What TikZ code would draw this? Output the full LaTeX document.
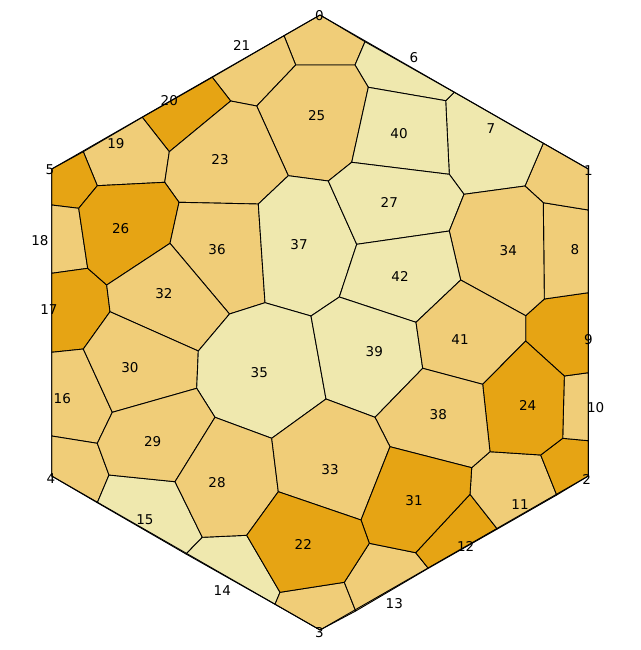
\documentclass[tikz,border=0pt]{standalone}
\usepackage{fontspec}
\setmainfont{DejaVu Sans}
\usepackage{xcolor}
\usepackage{tikz}

\definecolor{pale}{RGB}{239,232,174}
\definecolor{mid}{RGB}{240,205,120}
\definecolor{deep}{RGB}{230,164,20}

\begin{document}
\begin{tikzpicture}[
  x=1pt, y=-1pt,
  font=\fontsize{13.5}{16}\selectfont,
  cell/.style={draw=black, line width=0.9pt, line join=round},
  palecell/.style={cell, fill=pale},
  midcell/.style={cell, fill=mid},
  deepcell/.style={cell, fill=deep},
  lbl/.style={inner sep=0pt}
]
\useasboundingbox (0,0) rectangle (640,650);

% cells touching the hexagon
\filldraw[midcell]  (284,35.7) -- (320,15) -- (365,41.7) -- (355,65) -- (295.7,65) -- cycle;
\filldraw[midcell]  (212.3,77.3) -- (284,35.7) -- (295.7,65) -- (256.7,106) -- (230.7,101) -- cycle;
\filldraw[deepcell] (142.3,117.3) -- (212.3,77.3) -- (230.7,101) -- (169.3,151.7) -- cycle;
\filldraw[midcell]  (83.3,151.7) -- (142.3,117.3) -- (169.3,151.7) -- (164.7,182.3) -- (97.3,185.7) -- cycle;
\filldraw[deepcell] (51.7,169) -- (83.3,151.7) -- (97.3,185.7) -- (78.7,208.3) -- (51.7,205) -- cycle;
\filldraw[midcell]  (51.7,205) -- (78.7,208.3) -- (87.7,268.3) -- (51.7,273.3) -- cycle;
\filldraw[deepcell] (51.7,273.3) -- (87.7,268.3) -- (106.7,285) -- (110,311.7) -- (83.3,349) -- (51.7,352.3) -- cycle;
\filldraw[midcell]  (51.7,352.3) -- (83.3,349) -- (112.3,412.3) -- (97.3,443.3) -- (51.7,436) -- cycle;
\filldraw[midcell]  (51.7,436) -- (97.3,443.3) -- (109,475) -- (97.3,502.7) -- (51.7,476) -- cycle;
\filldraw[palecell] (97.3,502.7) -- (109,475) -- (175,481.7) -- (202.3,537.3) -- (186,554) -- cycle;
\filldraw[palecell] (186,554) -- (202.3,537.3) -- (246.7,535.3) -- (280,592.3) -- (275,604.3) -- cycle;
\filldraw[midcell]  (275,604.3) -- (280,592.3) -- (344.3,582.3) -- (355.7,611) -- (320,630) -- cycle;
\filldraw[midcell]  (355.7,611) -- (344.3,582.3) -- (369.3,543.3) -- (415.7,552.7) -- (428.3,568.3) -- cycle;
\filldraw[deepcell] (428.3,568.3) -- (415.7,552.7) -- (470,494.3) -- (497.3,529) -- cycle;
\filldraw[midcell]  (497.3,529) -- (470,494.3) -- (471.7,467.7) -- (490,451.7) -- (540.7,455) -- (556.7,495) -- cycle;
\filldraw[deepcell] (556.7,495) -- (540.7,455) -- (562.7,438.3) -- (588.3,440.7) -- (588.3,476) -- cycle;
\filldraw[midcell]  (588.3,440.7) -- (562.7,438.3) -- (564.3,376) -- (588.3,372.7) -- cycle;
\filldraw[deepcell] (544.3,299) -- (588.3,292.7) -- (588.3,372.7) -- (564.3,376) -- (525.7,341) -- (525.7,315.7) -- cycle;
\filldraw[midcell]  (543.3,202.7) -- (588.3,210) -- (588.3,292.7) -- (544.3,299) -- cycle;
\filldraw[midcell]  (543.3,143.3) -- (588.3,169) -- (588.3,210) -- (543.3,202.7) -- (525,186) -- cycle;
\filldraw[palecell] (454.3,92.3) -- (543.3,143.3) -- (525,186) -- (464,194.3) -- (449.3,174.3) -- (445.7,100.7) -- cycle;
\filldraw[palecell] (365,41.7) -- (454.3,92.3) -- (445.7,100.7) -- (368.3,87.3) -- (355,65) -- cycle;

% inner cells
\filldraw[midcell]  (295.7,65) -- (355,65) -- (368.3,87.3) -- (351.7,162.3) -- (328.3,181) -- (288.3,175.7) -- (256.7,106) -- cycle;
\filldraw[palecell] (368.3,87.3) -- (445.7,100.7) -- (449.3,174.3) -- (351.7,162.3) -- cycle;
\filldraw[midcell]  (169.3,151.7) -- (230.7,101) -- (256.7,106) -- (288.3,175.7) -- (258.3,204) -- (179,202.3) -- (164.7,182.3) -- cycle;
\filldraw[deepcell] (97.3,185.7) -- (164.7,182.3) -- (179,202.3) -- (170,243.3) -- (106.7,285) -- (87.7,268.3) -- (78.7,208.3) -- cycle;
\filldraw[midcell]  (179,202.3) -- (258.3,204) -- (265,302.7) -- (229.5,314) -- (170,243.3) -- cycle;
\filldraw[palecell] (258.3,204) -- (288.3,175.7) -- (328.3,181) -- (356.7,244.3) -- (339.3,297) -- (311,316) -- (265,302.7) -- cycle;
\filldraw[palecell] (351.7,162.3) -- (449.3,174.3) -- (464,194.3) -- (449.3,231) -- (356.7,244.3) -- (328.3,181) -- cycle;
\filldraw[midcell]  (464,194.3) -- (525,186) -- (543.3,202.7) -- (544.3,299) -- (525.7,315.7) -- (460.7,280) -- (449.3,231) -- cycle;
\filldraw[palecell] (356.7,244.3) -- (449.3,231) -- (460.7,280) -- (416,322.3) -- (339.3,297) -- cycle;
\filldraw[midcell]  (170,243.3) -- (229.5,314) -- (198.3,351) -- (110,311.7) -- (106.7,285) -- cycle;
\filldraw[midcell]  (110,311.7) -- (198.3,351) -- (196.7,388.3) -- (112.3,412.3) -- (83.3,349) -- cycle;
\filldraw[palecell] (229.5,314) -- (265,302.7) -- (311,316) -- (326,399) -- (271.7,438.3) -- (215,417.3) -- (196.7,388.3) -- (198.3,351) -- cycle;
\filldraw[palecell] (339.3,297) -- (416,322.3) -- (422.7,368.3) -- (375,417.3) -- (326,399) -- (311,316) -- cycle;
\filldraw[midcell]  (460.7,280) -- (525.7,315.7) -- (525.7,341) -- (482.7,384.3) -- (422.7,368.3) -- (416,322.3) -- cycle;
\filldraw[deepcell] (482.7,384.3) -- (525.7,341) -- (564.3,376) -- (562.7,438.3) -- (540.7,455) -- (490,451.7) -- cycle;
\filldraw[midcell]  (422.7,368.3) -- (482.7,384.3) -- (490,451.7) -- (471.7,467.7) -- (390,446.7) -- (375,417.3) -- cycle;
\filldraw[midcell]  (112.3,412.3) -- (196.7,388.3) -- (215,417.3) -- (175,481.7) -- (109,475) -- (97.3,443.3) -- cycle;
\filldraw[midcell]  (175,481.7) -- (215,417.3) -- (271.7,438.3) -- (278.3,491.7) -- (246.7,535.3) -- (202.3,537.3) -- cycle;
\filldraw[midcell]  (326,399) -- (375,417.3) -- (390,446.7) -- (361,520) -- (278.3,491.7) -- (271.7,438.3) -- cycle;
\filldraw[deepcell] (361,520) -- (390,446.7) -- (471.7,467.7) -- (470,494.3) -- (415.7,552.7) -- (369.3,543.3) -- cycle;
\filldraw[deepcell] (246.7,535.3) -- (278.3,491.7) -- (361,520) -- (369.3,543.3) -- (344.3,582.3) -- (280,592.3) -- cycle;

% hexagon outline
\draw[cell] (320,15) -- (588.3,169) -- (588.3,476) -- (320,630) -- (51.7,476) -- (51.7,169) -- cycle;

% labels
\node[lbl] (p0)  at (319.3,15.7)  {0};
\node[lbl] (p1)  at (588.3,170.7) {1};
\node[lbl] (p2)  at (586.7,479)   {2};
\node[lbl] (p3)  at (319.3,632.3) {3};
\node[lbl] (p4)  at (51,478.3)    {4};
\node[lbl] (p5)  at (50,170)      {5};
\node[lbl] (p6)  at (414,57.3)    {6};
\node[lbl] (p7)  at (491,129)     {7};
\node[lbl] (p8)  at (575,250)     {8};
\node[lbl] (p9)  at (588.3,339.3) {9};
\node[lbl] (p10) at (595.7,407.3) {10};
\node[lbl] (p11) at (520,505)     {11};
\node[lbl] (p12) at (465.7,546.7) {12};
\node[lbl] (p13) at (394.3,603.3) {13};
\node[lbl] (p14) at (222.3,591)   {14};
\node[lbl] (p15) at (145,519.3)   {15};
\node[lbl] (p16) at (62.3,398.3)  {16};
\node[lbl] (p17) at (49,309.3)    {17};
\node[lbl] (p18) at (40,241)      {18};
\node[lbl] (p19) at (116,143.3)   {19};
\node[lbl] (p20) at (169.3,101)   {20};
\node[lbl] (p21) at (241.7,45)    {21};
\node[lbl] (p22) at (303.3,544.3) {22};
\node[lbl] (p23) at (220,160)     {23};
\node[lbl] (p24) at (527.7,405)   {24};
\node[lbl] (p25) at (316.7,116)   {25};
\node[lbl] (p26) at (120.7,228.3) {26};
\node[lbl] (p27) at (389.3,202.7) {27};
\node[lbl] (p28) at (217,483)     {28};
\node[lbl] (p29) at (152.7,441.7) {29};
\node[lbl] (p30) at (130,367.3)   {30};
\node[lbl] (p31) at (414,501)     {31};
\node[lbl] (p32) at (164,294)     {32};
\node[lbl] (p33) at (330,469.3)   {33};
\node[lbl] (p34) at (508.3,251)   {34};
\node[lbl] (p35) at (259.3,373)   {35};
\node[lbl] (p36) at (217,250)     {36};
\node[lbl] (p37) at (299,244.3)   {37};
\node[lbl] (p38) at (438.3,414.3) {38};
\node[lbl] (p39) at (374.3,351.7) {39};
\node[lbl] (p40) at (399,134)     {40};
\node[lbl] (p41) at (460,339.3)   {41};
\node[lbl] (p42) at (400,276)     {42};
\end{tikzpicture}
\end{document}
